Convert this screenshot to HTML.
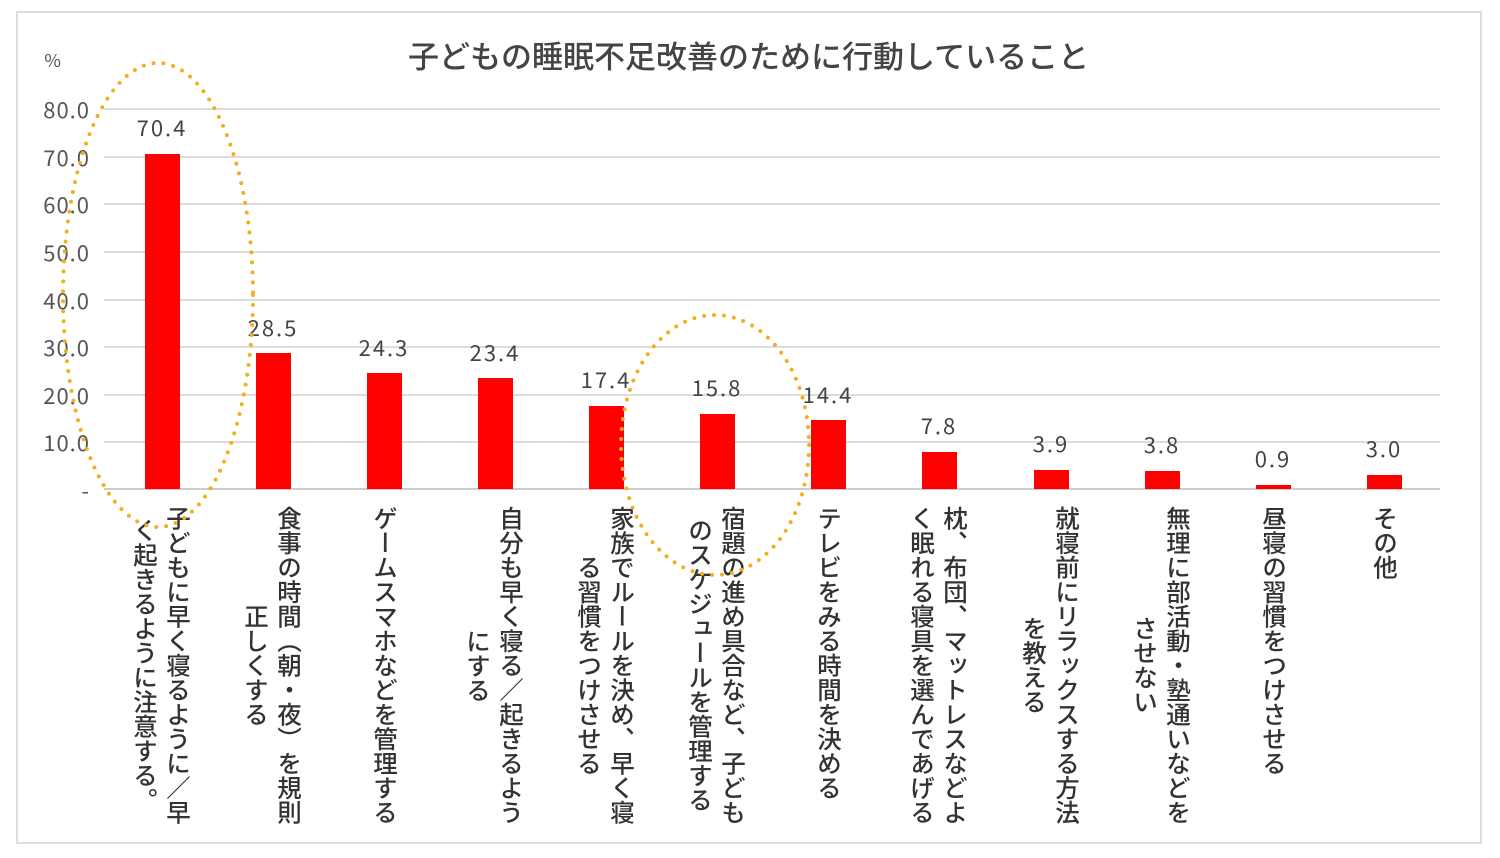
<!DOCTYPE html>
<html><head><meta charset="utf-8"><style>
body{margin:0;width:1500px;height:858px;background:#fff;position:relative;overflow:hidden;font-family:"Liberation Sans","Noto Sans CJK JP",sans-serif;color:#333}
.frame{position:absolute;left:16px;top:11px;width:1466px;height:833px;border:2px solid #ddd;box-sizing:border-box}
.t{position:absolute;font-size:24px;color:#444}
.grid{position:absolute;left:104px;width:1336px;height:2px;background:#dcdcdc}
.yl{position:absolute;left:28px;width:62px;text-align:right;font-size:22px;color:#555;font-family:"Noto Sans CJK JP",sans-serif;letter-spacing:1px}
.bar{position:absolute;width:35px;background:#f00}
.v{position:absolute;font-size:22px;color:#444;width:80px;text-align:center;font-family:"Noto Sans CJK JP",sans-serif;letter-spacing:2px}
.lab{position:absolute;top:506px;writing-mode:vertical-rl;font-size:24.5px;line-height:33px;color:#333;font-family:"Noto Sans CJK JP",sans-serif;font-weight:500}
</style></head><body>
<div class="frame"></div>
<div class="t" style="left:408px;top:32px;font-size:31px;font-weight:500;font-family:'Noto Sans CJK JP',sans-serif">子どもの睡眠不足改善のために行動していること</div>
<div class="yl" style="top:47px;left:40px;width:22px;font-size:18px">%</div>
<div class="grid" style="top:108px"></div><div class="grid" style="top:156px"></div><div class="grid" style="top:203px"></div><div class="grid" style="top:251px"></div><div class="grid" style="top:299px"></div><div class="grid" style="top:346px"></div><div class="grid" style="top:394px"></div><div class="grid" style="top:441px"></div><div class="grid" style="top:488px;background:#ccc"></div>
<div class="yl" style="top:93px">80.0</div><div class="yl" style="top:141px">70.0</div><div class="yl" style="top:188px">60.0</div><div class="yl" style="top:236px">50.0</div><div class="yl" style="top:284px">40.0</div><div class="yl" style="top:331px">30.0</div><div class="yl" style="top:379px">20.0</div><div class="yl" style="top:426px">10.0</div><div class="yl" style="top:474px">-</div>

<div class="bar" style="left:145px;top:154px;height:335px"></div><div class="v" style="left:122px;top:111px">70.4</div>
<div class="bar" style="left:256px;top:353px;height:136px"></div><div class="v" style="left:233px;top:311px">28.5</div>
<div class="bar" style="left:367px;top:373px;height:116px"></div><div class="v" style="left:344px;top:331px">24.3</div>
<div class="bar" style="left:478px;top:378px;height:111px"></div><div class="v" style="left:455px;top:336px">23.4</div>
<div class="bar" style="left:589px;top:406px;height:83px"></div><div class="v" style="left:566px;top:363px">17.4</div>
<div class="bar" style="left:700px;top:414px;height:75px"></div><div class="v" style="left:677px;top:371px">15.8</div>
<div class="bar" style="left:811px;top:420px;height:69px"></div><div class="v" style="left:788px;top:378px">14.4</div>
<div class="bar" style="left:922px;top:452px;height:37px"></div><div class="v" style="left:899px;top:409px">7.8</div>
<div class="bar" style="left:1034px;top:470px;height:19px"></div><div class="v" style="left:1011px;top:427px">3.9</div>
<div class="bar" style="left:1145px;top:471px;height:18px"></div><div class="v" style="left:1122px;top:428px">3.8</div>
<div class="bar" style="left:1256px;top:485px;height:4px"></div><div class="v" style="left:1233px;top:442px">0.9</div>
<div class="bar" style="left:1367px;top:475px;height:14px"></div><div class="v" style="left:1344px;top:432px">3.0</div>

<div class="lab" style="left:129px;width:66px;text-align:center">子どもに早く寝るように／早<br>く起きるように注意する。</div>
<div class="lab" style="left:240px;width:66px;text-align:center">食事の時間（朝・夜）を規則<br>正しくする</div>
<div class="lab" style="left:367px;width:35px">ゲームスマホなどを管理する</div>
<div class="lab" style="left:462px;width:66px;text-align:center">自分も早く寝る／起きるよう<br>にする</div>
<div class="lab" style="left:573px;width:66px;text-align:center">家族でルールを決め、早く寝<br>る習慣をつけさせる</div>
<div class="lab" style="left:684px;width:66px;text-align:center">宿題の進め具合など、子ども<br>のスケジュールを管理する</div>
<div class="lab" style="left:811px;width:35px">テレビをみる時間を決める</div>
<div class="lab" style="left:906px;width:66px;text-align:center">枕、布団、マットレスなどよ<br>く眠れる寝具を選んであげる</div>
<div class="lab" style="left:1018px;width:66px;text-align:center">就寝前にリラックスする方法<br>を教える</div>
<div class="lab" style="left:1129px;width:66px;text-align:center">無理に部活動・塾通いなどを<br>させない</div>
<div class="lab" style="left:1256px;width:35px">昼寝の習慣をつけさせる</div>
<div class="lab" style="left:1367px;width:35px">その他</div>

<svg style="position:absolute;left:0;top:0" width="1500" height="858">
<ellipse cx="158" cy="295" rx="95" ry="232" fill="none" stroke="#f0b020" stroke-width="4" stroke-dasharray="0 10" stroke-linecap="round"/>
<ellipse cx="715" cy="445" rx="94" ry="130" fill="none" stroke="#f0b020" stroke-width="4" stroke-dasharray="0 10" stroke-linecap="round"/>
</svg>
</body></html>
